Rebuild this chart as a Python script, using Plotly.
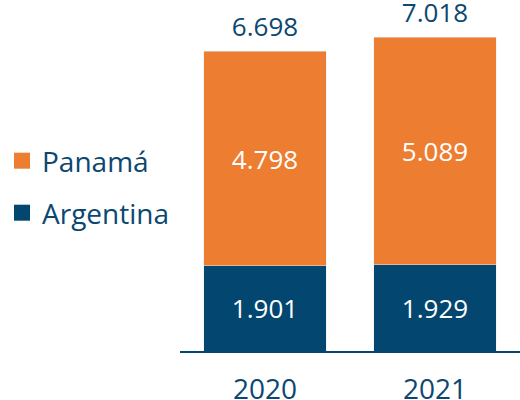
import plotly.graph_objects as go

years = ["2020", "2021"]
argentina = [1901, 1929]
panama = [4798, 5089]
totals = [6698, 7018]

orange = "#ED7D31"
blue = "#03466F"
txt = "#0B4770"
font = "Open Sans"


def fmt(v):
    return f"{v:,}".replace(",", ".")


fig = go.Figure()

fig.add_trace(go.Bar(x=years, y=argentina, name="Argentina", marker_color=blue,
                     text=[fmt(v) for v in argentina], textposition="inside", textangle=0,
                     insidetextanchor="middle",
                     textfont=dict(color="white", size=26, family=font), showlegend=False))
fig.add_trace(go.Bar(x=years, y=panama, name="Panamá", marker_color=orange,
                     text=[fmt(v) for v in panama], textposition="inside", textangle=0,
                     insidetextanchor="middle",
                     textfont=dict(color="white", size=26, family=font), showlegend=False))

# totals above the stacks (invisible marker just to lift the text a bit)
fig.add_trace(go.Scatter(x=years, y=totals, mode="markers+text", text=[fmt(v) for v in totals],
                         textposition="top center", cliponaxis=False, showlegend=False,
                         marker=dict(size=12, color="rgba(0,0,0,0)"), hoverinfo="skip",
                         textfont=dict(size=26, color=txt, family=font)))

# legend-only entries, bigger squares than the bar legend gives
fig.add_trace(go.Scatter(x=[None], y=[None], mode="markers", name="Panamá",
                         marker=dict(symbol="square", size=16, color=orange), legend="legend"))
fig.add_trace(go.Scatter(x=[None], y=[None], mode="markers", name="Argentina",
                         marker=dict(symbol="square", size=16, color=blue), legend="legend2"))

legend_style = dict(xref="paper", yref="container", xanchor="left", yanchor="middle",
                    font=dict(size=28, color=txt, family=font), bgcolor="rgba(0,0,0,0)",
                    itemwidth=30)

fig.update_layout(
    width=520, height=400,
    margin=dict(l=180, r=0, t=20, b=49, autoexpand=False),
    barmode="stack", bargap=0.28,
    plot_bgcolor="white", paper_bgcolor="white",
    font=dict(family=font, color=txt),
    legend=dict(x=-178 / 340, y=1 - 161 / 400, **legend_style),
    legend2=dict(x=-178 / 340, y=1 - 213 / 400, **legend_style),
    xaxis=dict(type="category", showline=True, linecolor=blue, linewidth=2, ticks="outside",
               ticklen=12, tickcolor="rgba(0,0,0,0)",
               tickfont=dict(size=28, color=txt, family=font), showgrid=False),
    yaxis=dict(visible=False, range=[0, 7400], showgrid=False, zeroline=False),
)

fig.write_html("out.html", config={"displayModeBar": False},
               post_script="document.body.style.margin='0px';")
